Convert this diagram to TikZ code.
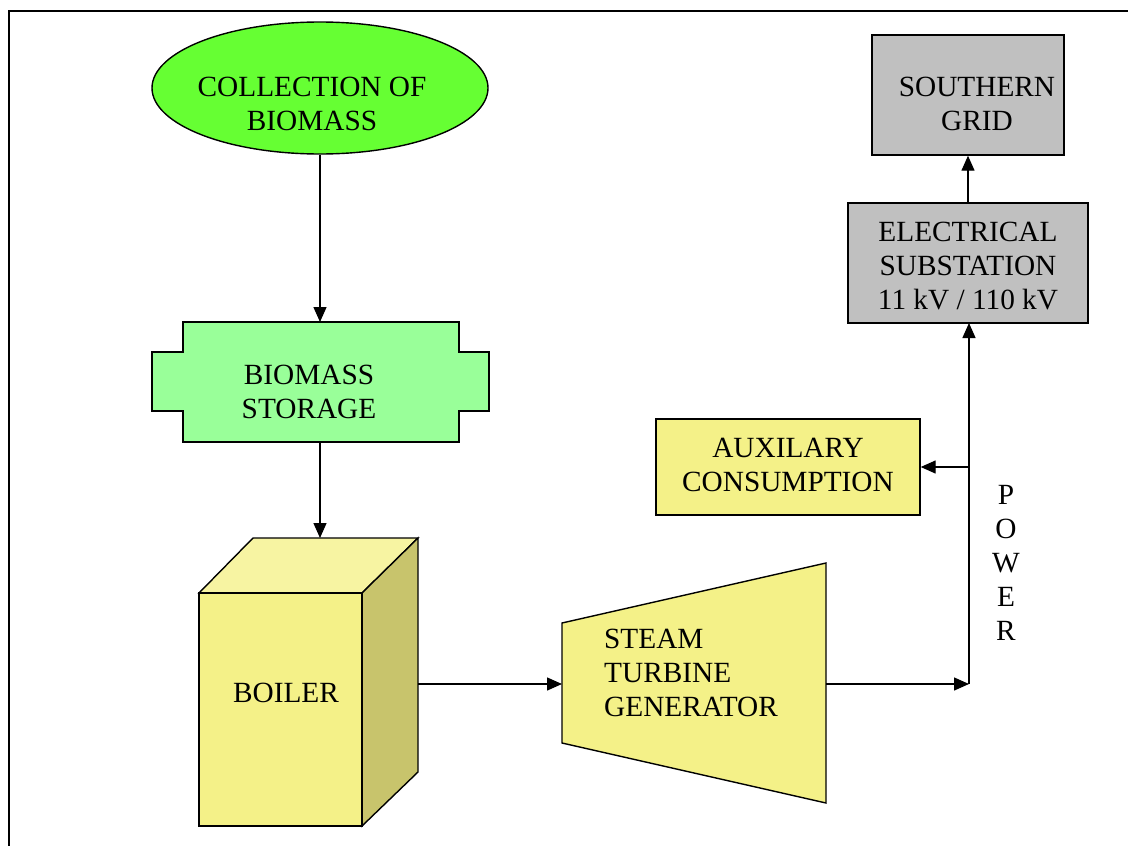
\documentclass[tikz,border=0pt]{standalone}
\usepackage{fontspec}
\setmainfont{Liberation Serif}
\usetikzlibrary{arrows.meta,shapes.geometric}
\definecolor{leafgreen}{HTML}{66FF33}
\definecolor{palegreen}{HTML}{99FF99}
\definecolor{paleyellow}{HTML}{F4F188}
\definecolor{topyellow}{HTML}{F7F4A2}
\definecolor{sideyellow}{HTML}{C8C46C}
\definecolor{boxgray}{HTML}{C0C0C0}
\tikzset{
  outline/.style={draw=black,line width=1.4pt},
  lbl/.style={inner sep=0pt,align=center,font=\fontsize{29.3}{34}\selectfont},
  flow/.style={line width=1.4pt,-{Triangle[length=15pt,width=13pt]}},
  plain/.style={line width=1.4pt},
}
\begin{document}
\begin{tikzpicture}[x=1pt,y=-1pt]
\useasboundingbox (0,0) rectangle (1128,846);
\clip (0,0) rectangle (1128,846);
\fill[white] (0,0) rectangle (1128,846);
% frame
\draw[line width=2.5pt] (9,900) -- (9,11) -- (1200,11);

% collection of biomass
\node[ellipse,outline,fill=leafgreen,minimum width=336pt,minimum height=132pt] (coll) at (320,88) {};
\node[lbl] (colltxt) at (312,104) {COLLECTION OF\\BIOMASS};

% biomass storage
\draw[outline,fill=palegreen] (183,322) -- (459,322) -- (459,352) -- (489,352) -- (489,411) -- (459,411) -- (459,442) -- (183,442) -- (183,411) -- (152,411) -- (152,352) -- (183,352) -- cycle;
\coordinate (stortop) at (320,322);
\coordinate (storbot) at (320,442);
\node[lbl] (stortxt) at (309,392) {BIOMASS\\STORAGE};

% boiler
\draw[outline,fill=topyellow] (199,593) -- (253,538) -- (418,538) -- (362,593) -- cycle;
\draw[outline,fill=sideyellow] (362,593) -- (418,538) -- (418,772) -- (362,826) -- cycle;
\draw[outline,fill=paleyellow] (199,593) rectangle (362,826);
\coordinate (boiltop) at (320,538);
\coordinate (boilout) at (418,684);
\node[lbl] (boiltxt) at (286,693) {BOILER};

% turbine
\draw[outline,fill=paleyellow] (562,623) -- (826,563) -- (826,803) -- (562,743) -- cycle;
\coordinate (turbin) at (562,684);
\coordinate (turbout) at (826,684);
\node[lbl,align=left,anchor=west] (turbtxt) at (604,673) {STEAM\\TURBINE\\GENERATOR};

% auxiliary
\node[outline,fill=paleyellow,minimum width=264pt,minimum height=96pt,inner sep=0pt] (aux) at (788,467) {};
\node[lbl] (auxtxt) at (788,465) {AUXILARY\\CONSUMPTION};

% substation
\node[outline,fill=boxgray,minimum width=240pt,minimum height=120pt,inner sep=0pt] (sub) at (968,263) {};
\node[lbl] (subtxt) at (968,266) {ELECTRICAL\\SUBSTATION\\11 kV / 110 kV};

% southern grid
\node[outline,fill=boxgray,minimum width=192pt,minimum height=120pt,inner sep=0pt] (grid) at (968,95) {};
\node[lbl] (gridtxt) at (977,104) {SOUTHERN\\GRID};

% power label
\node[lbl] (power) at (1006,563) {P\\O\\W\\E\\R};

% bus coordinates
\coordinate (corner) at (969,684);
\coordinate (tap) at (969,467);
\coordinate (subin) at (969,323);

% connectors
\draw[flow] (coll.south) -- (stortop);
\draw[flow] (storbot) -- (boiltop);
\draw[flow] (boilout) -- (turbin);
\draw[flow] (turbout) -- (corner);
\draw[plain] (corner) -- (tap);
\draw[flow] (tap) -- (subin);
\draw[flow] (tap) -- (aux.east);
\draw[flow] (sub.north) -- (grid.south);
\end{tikzpicture}
\end{document}
